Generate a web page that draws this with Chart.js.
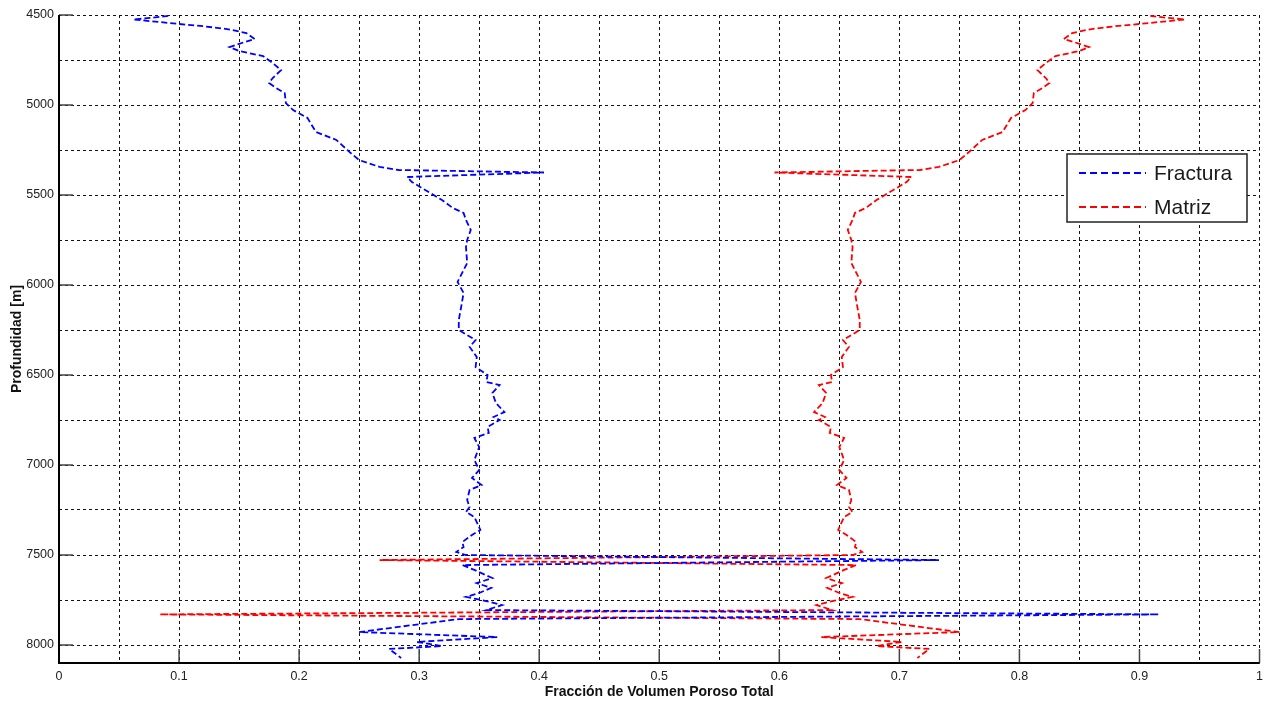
<!DOCTYPE html>
<html>
<head>
<meta charset="utf-8">
<script src="https://cdn.jsdelivr.net/npm/chart.js@4.4.0/dist/chart.umd.min.js"></script>
<style>
  html, body { margin: 0; padding: 0; background: #fff; }
  #wrap { width: 1269px; height: 705px; }
</style>
</head>
<body>
<div id="wrap"><canvas id="poroChart"></canvas></div>
<script>
// Profundidad [m] (shared by both curves)
const depth = [
  4505, 4515, 4525, 4540, 4550, 4562, 4578, 4600, 4633, 4660,
  4678, 4700, 4728, 4767, 4806, 4850, 4878, 4906, 4933, 4989,
  5028, 5072, 5150, 5194, 5267, 5306, 5344, 5361, 5375, 5400,
  5428, 5528, 5572, 5600, 5639, 5694, 5750, 5789, 5878, 5983,
  6044, 6122, 6194, 6250, 6306, 6344, 6400, 6456, 6500, 6539,
  6556, 6600, 6656, 6706, 6733, 6750, 6789, 6822, 6850, 6900,
  6972, 7028, 7072, 7111, 7139, 7194, 7233, 7261, 7289, 7361,
  7389, 7428, 7456, 7483, 7500, 7528, 7556, 7583, 7628, 7656,
  7683, 7711, 7733, 7750, 7778, 7806, 7830, 7856, 7928, 7956,
  7983, 8006, 8022, 8072
];

const fractura = [
  0.091, 0.078, 0.062, 0.085, 0.100, 0.120, 0.140, 0.156, 0.163, 0.150,
  0.142, 0.150, 0.170, 0.178, 0.185, 0.178, 0.175, 0.181, 0.188, 0.189,
  0.195, 0.207, 0.214, 0.231, 0.243, 0.250, 0.267, 0.283, 0.404, 0.290,
  0.294, 0.319, 0.328, 0.337, 0.339, 0.343, 0.340, 0.339, 0.340, 0.332,
  0.337, 0.335, 0.333, 0.333, 0.347, 0.342, 0.348, 0.347, 0.357, 0.356,
  0.367, 0.361, 0.364, 0.371, 0.362, 0.367, 0.357, 0.358, 0.346, 0.350,
  0.346, 0.350, 0.344, 0.352, 0.342, 0.340, 0.342, 0.339, 0.346, 0.351,
  0.344, 0.336, 0.337, 0.331, 0.339, 0.733, 0.336, 0.346, 0.361, 0.348,
  0.360, 0.350, 0.339, 0.352, 0.369, 0.356, 0.916, 0.333, 0.250, 0.365,
  0.298, 0.319, 0.275, 0.285
];

const matriz = [
  0.909, 0.922, 0.938, 0.915, 0.900, 0.880, 0.860, 0.844, 0.837, 0.850,
  0.858, 0.850, 0.830, 0.822, 0.815, 0.822, 0.825, 0.819, 0.812, 0.811,
  0.805, 0.793, 0.786, 0.769, 0.757, 0.750, 0.733, 0.717, 0.596, 0.710,
  0.706, 0.681, 0.672, 0.663, 0.661, 0.657, 0.660, 0.661, 0.660, 0.668,
  0.663, 0.665, 0.667, 0.667, 0.653, 0.658, 0.652, 0.653, 0.643, 0.644,
  0.633, 0.639, 0.636, 0.629, 0.638, 0.633, 0.643, 0.642, 0.654, 0.650,
  0.654, 0.650, 0.656, 0.648, 0.658, 0.660, 0.658, 0.661, 0.654, 0.649,
  0.656, 0.664, 0.663, 0.669, 0.661, 0.267, 0.664, 0.654, 0.639, 0.652,
  0.640, 0.650, 0.661, 0.648, 0.631, 0.644, 0.084, 0.667, 0.750, 0.635,
  0.702, 0.681, 0.725, 0.715
];

const yLabelStep = 500;   // labelled y ticks (x labels every 0.1)

const toPoints = vals => vals.map((v, i) => ({ x: v, y: depth[i] }));

// solid left/bottom axis lines and short inward ticks at labelled positions
const axesAndTicks = {
  id: 'axesAndTicks',
  afterDatasetsDraw(chart) {
    const { ctx, chartArea, scales } = chart;
    ctx.save();
    ctx.strokeStyle = '#444';
    ctx.lineWidth = 1.5;
    scales.x.ticks.forEach(t => {
      const k = Math.round(t.value * 100);
      if (k % 10 !== 0) return;
      const px = scales.x.getPixelForValue(t.value);
      ctx.beginPath();
      ctx.moveTo(px, chartArea.bottom);
      ctx.lineTo(px, chartArea.bottom - 14);
      ctx.stroke();
    });
    scales.y.ticks.forEach(t => {
      if (t.value % yLabelStep !== 0) return;
      const py = scales.y.getPixelForValue(t.value);
      ctx.beginPath();
      ctx.moveTo(chartArea.left, py);
      ctx.lineTo(chartArea.left + 14, py);
      ctx.stroke();
    });
    ctx.strokeStyle = '#000';
    ctx.lineWidth = 2;
    ctx.beginPath();
    ctx.moveTo(chartArea.left, chartArea.top);
    ctx.lineTo(chartArea.left, chartArea.bottom);
    ctx.lineTo(chartArea.right, chartArea.bottom);
    ctx.stroke();
    ctx.restore();
  }
};

// boxed legend inside the plot, top right
const boxLegend = {
  id: 'boxLegend',
  afterDraw(chart) {
    const { ctx } = chart;
    const x0 = 1067, y0 = 154, w = 180, h = 68;
    ctx.save();
    ctx.fillStyle = '#fff';
    ctx.fillRect(x0, y0, w, h);
    ctx.strokeStyle = '#222';
    ctx.lineWidth = 1.5;
    ctx.strokeRect(x0, y0, w, h);
    chart.data.datasets.forEach((ds, i) => {
      const y = y0 + 19 + i * 34;
      ctx.strokeStyle = ds.borderColor;
      ctx.lineWidth = 2.2;
      ctx.setLineDash([7, 4]);
      ctx.beginPath();
      ctx.moveTo(x0 + 12, y);
      ctx.lineTo(x0 + 79, y);
      ctx.stroke();
      ctx.setLineDash([]);
      ctx.fillStyle = '#1a1a1a';
      ctx.font = '21px "Liberation Sans", Arial, sans-serif';
      ctx.textBaseline = 'middle';
      ctx.fillText(ds.label, x0 + 87, y + 1);
    });
    ctx.restore();
  }
};

const ctx = document.getElementById('poroChart').getContext('2d');
const chart = new Chart(ctx, {
  type: 'scatter',
  data: {
    datasets: [
      {
        label: 'Fractura',
        data: toPoints(fractura),
        showLine: true,
        borderColor: '#0000ff',
        borderWidth: 1.8,
        borderDash: [6, 3],
        pointRadius: 0,
        tension: 0
      },
      {
        label: 'Matriz',
        data: toPoints(matriz),
        showLine: true,
        borderColor: '#ff0000',
        borderWidth: 1.8,
        borderDash: [6, 3],
        pointRadius: 0,
        tension: 0
      }
    ]
  },
  options: {
    responsive: true,
    maintainAspectRatio: false,
    animation: false,
    devicePixelRatio: 1,
    layout: { padding: { top: 15, right: 7, left: 0, bottom: 0 } },
    plugins: {
      legend: { display: false },
      tooltip: { enabled: false }
    },
    scales: {
      x: {
        type: 'linear',
        min: 0,
        max: 1,
        afterFit: s => { s.height = 42; },
        ticks: {
          stepSize: 0.05,
          autoSkip: false,
          maxRotation: 0,
          padding: 6,
          color: '#222',
          font: { family: '"Liberation Sans", Arial, sans-serif', size: 12.5 },
          callback: v => {
            const k = Math.round(v * 100);
            return k % 10 === 0 ? String(k / 100) : '';
          }
        },
        grid: { color: '#111', lineWidth: 1, drawTicks: false },
        border: { display: false, dash: [3, 3] },
        title: {
          display: true,
          text: 'Fracción de Volumen Poroso Total',
          color: '#111',
          padding: 4,
          font: { family: '"Liberation Sans", Arial, sans-serif', size: 14, weight: 'bold' }
        }
      },
      y: {
        type: 'linear',
        reverse: true,
        min: 4500,
        max: 8100,
        afterFit: s => { s.width = 59; },
        ticks: {
          stepSize: 250,
          autoSkip: false,
          padding: 5,
          color: '#222',
          font: { family: '"Liberation Sans", Arial, sans-serif', size: 12.5 },
          callback: v => (v % yLabelStep === 0 ? String(v) : '')
        },
        grid: { color: '#111', lineWidth: 1, drawTicks: false },
        border: { display: false, dash: [3, 3] },
        title: {
          display: true,
          text: 'Profundidad [m]',
          color: '#111',
          padding: 9,
          font: { family: '"Liberation Sans", Arial, sans-serif', size: 14, weight: 'bold' }
        }
      }
    }
  },
  plugins: [axesAndTicks, boxLegend]
});
</script>
</body>
</html>
